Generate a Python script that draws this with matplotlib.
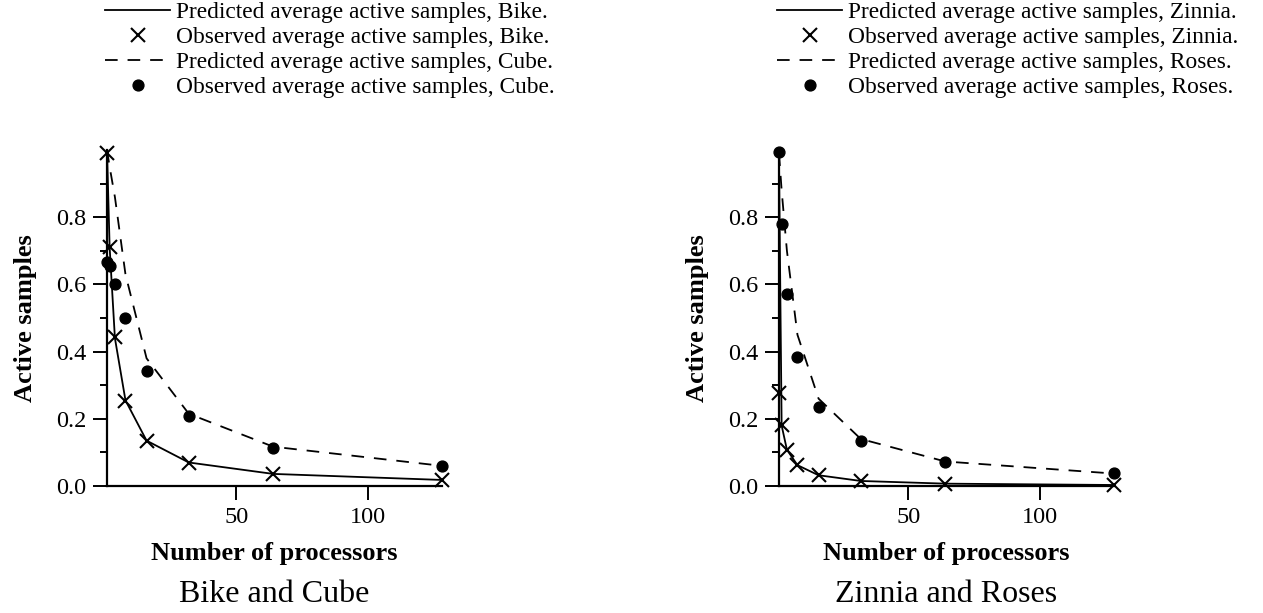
import matplotlib
matplotlib.use('Agg')
import matplotlib.pyplot as plt
from matplotlib.ticker import FixedLocator

# ---- data ----
processors = [1, 2, 4, 8, 16, 32, 64, 128]

bike_pred = [1.00, 0.71, 0.44, 0.255, 0.135, 0.070, 0.036, 0.018]
bike_obs = [0.99, 0.71, 0.443, 0.254, 0.135, 0.069, 0.037, 0.017]
cube_pred = [1.00, 0.95, 0.86, 0.63, 0.38, 0.215, 0.117, 0.060]
cube_obs = [0.667, 0.655, 0.601, 0.499, 0.343, 0.208, 0.114, 0.060]

zinnia_pred = [0.97, 0.18, 0.108, 0.062, 0.032, 0.015, 0.007, 0.003]
zinnia_obs = [0.276, 0.182, 0.108, 0.062, 0.032, 0.015, 0.007, 0.003]
roses_pred = [0.99, 0.88, 0.70, 0.45, 0.26, 0.14, 0.073, 0.037]
roses_obs = [0.995, 0.779, 0.572, 0.383, 0.234, 0.134, 0.071, 0.038]

panels = [
    ("Bike", "Cube", bike_pred, bike_obs, cube_pred, cube_obs, "Bike and Cube"),
    ("Zinnia", "Roses", zinnia_pred, zinnia_obs, roses_pred, roses_obs, "Zinnia and Roses"),
]

x_ticks = [50, 100]
y_major = [0.0, 0.2, 0.4, 0.6, 0.8]
y_minor = [0.1, 0.3, 0.5, 0.7, 0.9]

plt.rcParams['font.family'] = ['Liberation Serif', 'DejaVu Serif']

W, H = 1263, 613
fig = plt.figure(figsize=(W / 100, H / 100), dpi=100)

ax_px = [(107, 442), (779, 1114)]
y_bot, y_top = 486, 150

dash = (0, (7, 5.5))

for (n1, n2, p1, o1, p2, o2, title), (xl, xr) in zip(panels, ax_px):
    ax = fig.add_axes([xl / W, 1 - y_bot / H, (xr - xl) / W, (y_bot - y_top) / H])
    ax.plot(processors, p1, color='black', lw=1.3, ls='-',
            label=f"Predicted average active samples, {n1}.")
    ax.plot(processors, o1, color='black', ls='none', marker='x', ms=9.5, mew=1.5,
            clip_on=False, zorder=3,
            label=f"Observed average active samples, {n1}.")
    ax.plot(processors, p2, color='black', lw=1.3, ls=dash,
            label=f"Predicted average active samples, {n2}.")
    ax.plot(processors, o2, color='black', ls='none', marker='o', ms=7.8,
            clip_on=False, zorder=3,
            label=f"Observed average active samples, {n2}.")

    ax.set_xlim(1, 128)
    ax.set_ylim(0, 1.0)
    for s in ['top', 'right']:
        ax.spines[s].set_visible(False)
    for s in ['left', 'bottom']:
        ax.spines[s].set_linewidth(1.6)
    ax.xaxis.set_major_locator(FixedLocator(x_ticks))
    ax.yaxis.set_major_locator(FixedLocator(y_major))
    ax.yaxis.set_minor_locator(FixedLocator(y_minor))
    ax.set_yticklabels([f"{v:.1f}" for v in y_major])
    ax.tick_params(axis='both', which='major', direction='out', length=10, width=1.4,
                   labelsize=17.5, pad=5)
    ax.tick_params(axis='y', which='minor', direction='out', length=5, width=1.4)
    ax.tick_params(axis='x', which='minor', length=0)

    ax.set_xlabel("Number of processors", fontsize=19, fontweight='bold', labelpad=10)
    ax.set_ylabel("Active samples", fontsize=19, fontweight='bold', labelpad=13.5)

    fig.text((xl + xr) / 2 / W, 1 - 602 / H, title, fontsize=23, ha='center', va='baseline')

    ax.legend(loc='upper left', bbox_to_anchor=((xl - 2) / W, 1 - 2 / H),
              bbox_transform=fig.transFigure, frameon=False, fontsize=16.8,
              handlelength=2.8, handletextpad=0.26, labelspacing=0.15,
              borderpad=0.0, borderaxespad=0.0, numpoints=1)

fig.savefig('out.png', dpi=100)
